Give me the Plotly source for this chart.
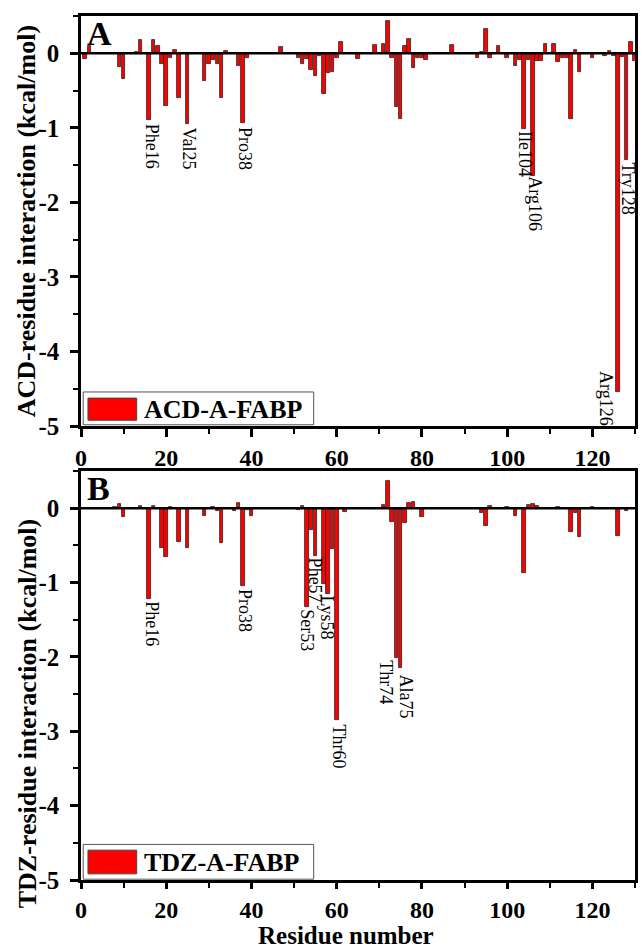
import plotly.graph_objects as go

# ---------------- data ----------------
# Panel A: ACD-A-FABP residue interaction energies (kcal/mol)
resA = [1, 2, 9, 10, 13, 14, 16, 17, 18, 19, 20, 21, 22, 23, 25, 29, 30, 31, 32, 33, 34,
        37, 38, 39, 47, 51, 52, 53, 54, 55, 56, 57, 58, 59, 60, 61, 65, 69, 71, 72, 73,
        74, 75, 76, 77, 78, 79, 80, 81, 87, 93, 94, 95, 96, 98, 100, 102, 103, 104, 105,
        106, 107, 108, 109, 111, 112, 113, 114, 115, 116, 117, 120, 123, 124, 125, 126,
        127, 128, 129, 130]
valA = [-0.08, 0.10, -0.18, -0.35, 0.02, 0.18, -0.90, 0.18, 0.10, -0.15, -0.71, -0.06, 0.05,
        -0.60, -0.95, -0.37, -0.14, -0.09, -0.15, -0.60, 0.03,
        -0.17, -0.94, -0.07, 0.08, -0.06, -0.15, -0.08, -0.22, -0.31, -0.04, -0.55, -0.27,
        -0.25, -0.07, 0.15, -0.08, 0.11, 0.13, 0.43, -0.07,
        -0.72, -0.875, 0.10, 0.19, -0.20, -0.07, -0.07, -0.09, 0.11, -0.07, 0.02, 0.32,
        -0.06, 0.10, -0.07, -0.17, -0.09, -1.02, -0.09,
        -1.64, -0.11, -0.11, 0.12, 0.12, -0.12, -0.07, -0.07, -0.88, 0.05, -0.25, -0.07,
        -0.04, 0.03, -0.04, -4.55,
        -0.05, -1.43, 0.15, -0.11]

# Panel B: TDZ-A-FABP residue interaction energies (kcal/mol)
resB = [8, 9, 10, 14, 16, 17, 19, 20, 21, 23, 25, 29, 31, 32, 33, 36, 37, 38, 39, 40,
        51, 52, 53, 54, 55, 57, 58, 59, 60, 62, 69, 71, 72, 73, 74, 75, 76, 77, 78, 80,
        94, 95, 96, 100, 102, 104, 105, 106, 107, 112, 115, 116, 117, 120, 123, 126, 128]
valB = [0.01, 0.06, -0.12, 0.03, -1.22, 0.03, -0.54, -0.65, 0.02, -0.46, -0.53, -0.10,
        0.02, -0.04, -0.47, -0.04, 0.07, -1.04, -0.03, -0.10,
        -0.02, 0.03, -1.33, -0.30, -0.64, -1.02, -1.15, -0.55, -2.85, -0.05, -0.01, 0.04,
        0.37, -0.19, -2.01, -2.15, -0.20, 0.07, 0.08, -0.125,
        -0.06, -0.24, 0.03, 0.02, -0.10, -0.87, 0.04, 0.06, 0.03, 0.01, -0.32, -0.06,
        -0.39, 0.01, -0.01, -0.37, -0.04]

# labelled residues: (residue, text)
labelsA = [(16, "Phe16"), (25, "Val25"), (38, "Pro38"), (104, "Ile104"),
           (106, "Arg106"), (126, "Arg126"), (128, "Try128")]
labelsB = [(16, "Phe16"), (38, "Pro38"), (53, "Ser53"), (57, "Phe57"), (58, "Lys58"),
           (60, "Thr60"), (74, "Thr74"), (75, "Ala75")]

ytick_vals = [-5, -4, -3, -2, -1, 0]
ytick_text = ["-5", "-4", "-3", "-2", "-1", "0"]
xtick_vals = [0, 20, 40, 60, 80, 100, 120]
xtick_text = ["0", "20", "40", "60", "80", "100", "120"]

series_names = ["ACD-A-FABP", "TDZ-A-FABP"]
ytitles = ["ACD-residue interaction (kcal/mol)", "TDZ-residue interaction (kcal/mol)"]
xtitle = "Residue number"
panel_letters = ["A", "B"]

# ---------------- style ----------------
FONT = "Liberation Serif"
RED = "#ff0000"
W, H = 642, 949
ML, MR, MT, MB = 81, 4, 16, 69
PH = H - MT - MB
BOT = H - MB  # pixel row of the plot-area bottom

# label pixel offsets (dx right, dy down) relative to bar end
offA = {16: (3, 2), 25: (1, 2), 38: (2, 3), 104: (0, 1), 106: (2, 0), 126: (-12, -22), 128: (2, 2)}
offB = {16: (2, 1), 38: (2, 3), 53: (0, 1), 57: (-8, -27), 58: (-1, 1), 60: (2, 3),
        74: (-10, 2), 75: (5, 5)}

fig = go.Figure()
for i, (rx, vy) in enumerate([(resA, valA), (resB, valB)]):
    fig.add_trace(go.Bar(
        x=rx, y=vy,
        xaxis="x" if i == 0 else "x2",
        yaxis="y" if i == 0 else "y2",
        width=0.85,
        marker=dict(color=RED, line=dict(color="#222222", width=0.8)),
        showlegend=False,
    ))

axis_common = dict(
    showline=True, linecolor="black", linewidth=2.5, mirror=True,
    ticks="outside", tickwidth=2.5, tickcolor="black",
    showgrid=False, zeroline=False,
)
yfont = dict(family=FONT, size=25, color="black", weight="bold")
xfont = dict(family=FONT, size=24, color="black", weight="bold")
xminor = dict(ticks="outside", ticklen=5, tickwidth=2.2, tickcolor="black",
              tick0=0, dtick=10, showgrid=False)
yminor = dict(ticks="outside", ticklen=5, tickwidth=2.2, tickcolor="black",
              tick0=0, dtick=0.5, showgrid=False)

fig.update_layout(
    width=W, height=H,
    margin=dict(l=ML, r=MR, t=MT, b=MB),
    paper_bgcolor="white", plot_bgcolor="white",
    bargap=0, showlegend=False,
    xaxis=dict(domain=[0, 1], anchor="y", range=[0, 130], tickvals=xtick_vals, ticktext=xtick_text,
               ticklen=8, tickfont=xfont, minor=xminor, **axis_common),
    yaxis=dict(domain=[(BOT - 426) / PH, 1], anchor="x", range=[-5, 0.5], tickvals=ytick_vals,
               ticktext=ytick_text, ticklen=8, tickfont=yfont, ticklabelstandoff=6, minor=yminor,
               **axis_common),
    xaxis2=dict(domain=[0, 1], anchor="y2", range=[0, 130], tickvals=xtick_vals, ticktext=xtick_text,
                ticklen=6, tickfont=xfont, minor=xminor, **axis_common),
    yaxis2=dict(domain=[0, (BOT - 471) / PH], anchor="x2", range=[-5, 0.5], tickvals=ytick_vals,
                ticktext=ytick_text, ticklen=8, tickfont=yfont, ticklabelstandoff=6, minor=yminor,
                **axis_common),
)

shapes = []
annotations = []
panels = [("x", "y", labelsA, offA, resA, valA), ("x2", "y2", labelsB, offB, resB, valB)]
legend_y = [(0.003, 0.083, 0.014, 0.068), (0.002, 0.087, 0.015, 0.073)]
for i, (xr, yr, labs, offs, rx, vy) in enumerate(panels):
    # zero line
    shapes.append(dict(type="line", xref=f"{xr} domain", yref=yr, x0=0, x1=1, y0=0, y1=0,
                       line=dict(color="black", width=2.5), layer="above"))
    # legend box & swatch
    by0, by1, sy0, sy1 = legend_y[i]
    shapes.append(dict(type="rect", xref=f"{xr} domain", yref=f"{yr} domain",
                       x0=0.004, x1=0.42, y0=by0, y1=by1,
                       line=dict(color="#555555", width=1), fillcolor="white", layer="above"))
    shapes.append(dict(type="rect", xref=f"{xr} domain", yref=f"{yr} domain",
                       x0=0.0126, x1=0.1005, y0=sy0, y1=sy1,
                       line=dict(color="#444444", width=1), fillcolor=RED, layer="above"))
    annotations.append(dict(xref=f"{xr} domain", yref=f"{yr} domain", x=0.111, y=(sy0 + sy1) / 2,
                            xanchor="left", yanchor="middle", showarrow=False,
                            text=series_names[i],
                            font=dict(family=FONT, size=26, color="black", weight="bold")))
    # panel letter
    annotations.append(dict(xref=f"{xr} domain", yref=f"{yr} domain", x=0.008, y=0.958,
                            xanchor="left", yanchor="middle", showarrow=False,
                            text=panel_letters[i],
                            font=dict(family=FONT, size=34, color="black", weight="bold")))
    # residue labels
    vals = dict(zip(rx, vy))
    for r, t in labs:
        dx, dy = offs[r]
        annotations.append(dict(xref=xr, yref=yr, x=r, y=vals[r], xanchor="center", yanchor="top",
                                xshift=dx, yshift=-dy, showarrow=False, textangle=90, text=t,
                                borderpad=0,
                                font=dict(family=FONT, size=18, color="black")))

# axis titles
ty_x = (27 - ML) / (W - ML - MR)
annotations.append(dict(xref="paper", yref="paper", x=ty_x, y=(BOT - 221) / PH,
                        xanchor="center", yanchor="middle", showarrow=False, textangle=-90,
                        text=ytitles[0], font=dict(family=FONT, size=26, color="black", weight="bold")))
annotations.append(dict(xref="paper", yref="paper", x=ty_x, y=(BOT - 714) / PH,
                        xanchor="center", yanchor="middle", showarrow=False, textangle=-90,
                        text=ytitles[1], font=dict(family=FONT, size=26, color="black", weight="bold")))
annotations.append(dict(xref="paper", yref="paper", x=0.478, y=-(MB + 1) / PH,
                        xanchor="center", yanchor="bottom", showarrow=False, borderpad=0,
                        text=xtitle, font=dict(family=FONT, size=25, color="black", weight="bold")))

fig.update_layout(shapes=shapes, annotations=annotations)
fig.write_html("out.html", config={"displayModeBar": False},
               post_script="document.body.style.margin='0';")
